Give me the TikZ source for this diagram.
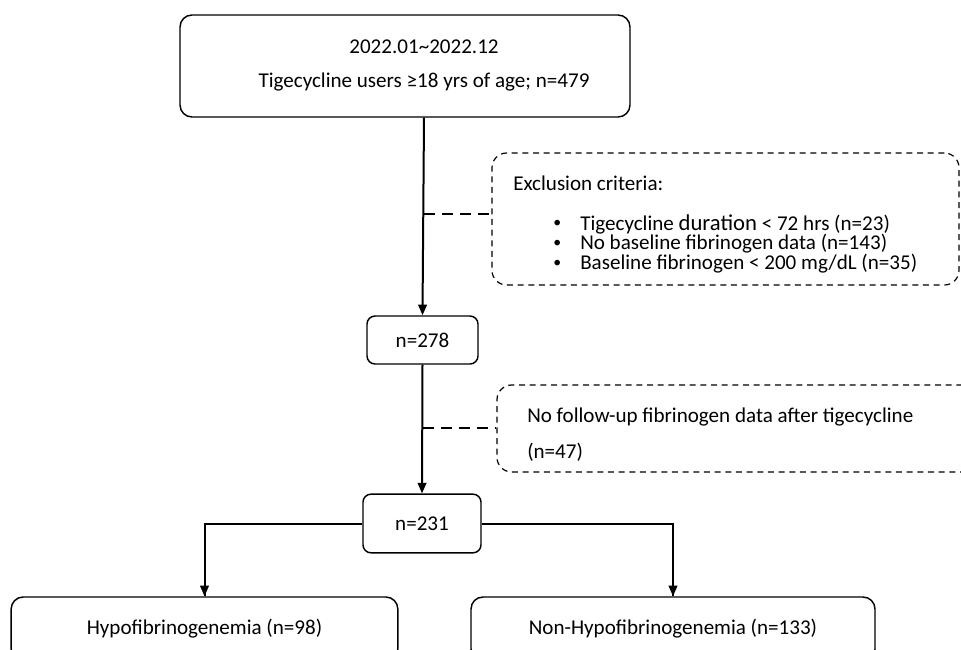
\documentclass[tikz,border=0pt]{standalone}
\usepackage{fontspec}
\setmainfont{Carlito}
\usetikzlibrary{arrows.meta}
\begin{document}
\begin{tikzpicture}[x=0.75pt,y=-0.75pt,
  box/.style={draw=black,line width=1.1pt,rounded corners=9pt,inner sep=0pt},
  sbox/.style={draw=black,line width=1.1pt,rounded corners=6pt,inner sep=0pt},
  dbox/.style={draw=black,line width=0.9pt,dash pattern=on 4.5pt off 3.5pt,rounded corners=11pt,inner sep=0pt},
  conn/.style={line width=1.5pt,-{Triangle[length=8pt,width=6.5pt]}},
  dconn/.style={line width=1.6pt,dash pattern=on 8.5pt off 5pt},
  txt/.style={font=\fontsize{15.8}{16}\selectfont,inner sep=0pt},
  ltxt/.style={txt,anchor=west}]
\useasboundingbox (0,0) rectangle (961,650);
\clip (0,0) rectangle (961,650);
\fill[white] (0,0) rectangle (961,650);
% boxes
\node[box,minimum width=337.5pt,minimum height=76.5pt] (top) at (405,66) {};
\node[txt] (t1) at (424,47) {2022.01\textasciitilde 2022.12};
\node[txt] (t2) at (424,82) {Tigecycline users ≥18 yrs of age; n=479};
\node[sbox,minimum width=83.25pt,minimum height=36pt] (n278) at (422.5,340) {};
\node[txt] (n278t) at (422.5,340) {n=278};
\node[sbox,minimum width=88.5pt,minimum height=44pt] (n231) at (422,523.5) {};
\node[txt] (n231t) at (422,523.5) {n=231};
\node[box,minimum width=290pt,minimum height=48pt] (hypo) at (204.5,629) {};
\node[txt] (hypot) at (204.5,629) {Hypofibrinogenemia (n=98)};
\node[box,minimum width=303pt,minimum height=48pt] (nonhypo) at (673,629) {};
\node[txt] (nonhypot) at (673,629) {Non-Hypofibrinogenemia (n=133)};
% dashed boxes
\node[dbox,minimum width=350.25pt,minimum height=99pt] (ex) at (725.5,219) {};
\node[ltxt] (ext) at (513,183) {Exclusion criteria:};
\node[ltxt] (b1) at (553,224) {\scalebox{0.75}{•}};
\node[ltxt] (b2) at (553,244) {\scalebox{0.75}{•}};
\node[ltxt] (b3) at (553,264) {\scalebox{0.75}{•}};
\node[ltxt] (b1t) at (580,224) {Tigecycline {\fontsize{17}{16}\selectfont duration} < 72 hrs (n=23)};
\node[ltxt] (b2t) at (580,244) {No baseline fibrinogen data (n=143)};
\node[ltxt] (b3t) at (580,264) {Baseline fibrinogen < 200 mg/dL (n=35)};
\node[dbox,minimum width=360pt,minimum height=65.25pt] (fu) at (737,428.5) {};
\node[ltxt] (fut1) at (527,417) {No follow-up fibrinogen data after tigecycline};
\node[ltxt] (fut2) at (527,452) {(n=47)};
% connectors
\coordinate (c1) at (424,214);
\coordinate (c2) at (423,428);
\draw[conn] (top.south -| n278.north) ++(1.5,0) -- (n278.north);
\draw[conn] (n278.south) -- (n231.north);
\draw[dconn] (c1) -- (c1 -| ex.west);
\draw[dconn] (c2) -- (c2 -| fu.west);
\draw[line width=1.5pt] (n231.west) -| (hypo.north);
\draw[conn] (n231.west -| hypo.north) -- (hypo.north);
\draw[line width=1.5pt] (n231.east) -| (nonhypo.north);
\draw[conn] (n231.east -| nonhypo.north) -- (nonhypo.north);
\end{tikzpicture}
\end{document}
